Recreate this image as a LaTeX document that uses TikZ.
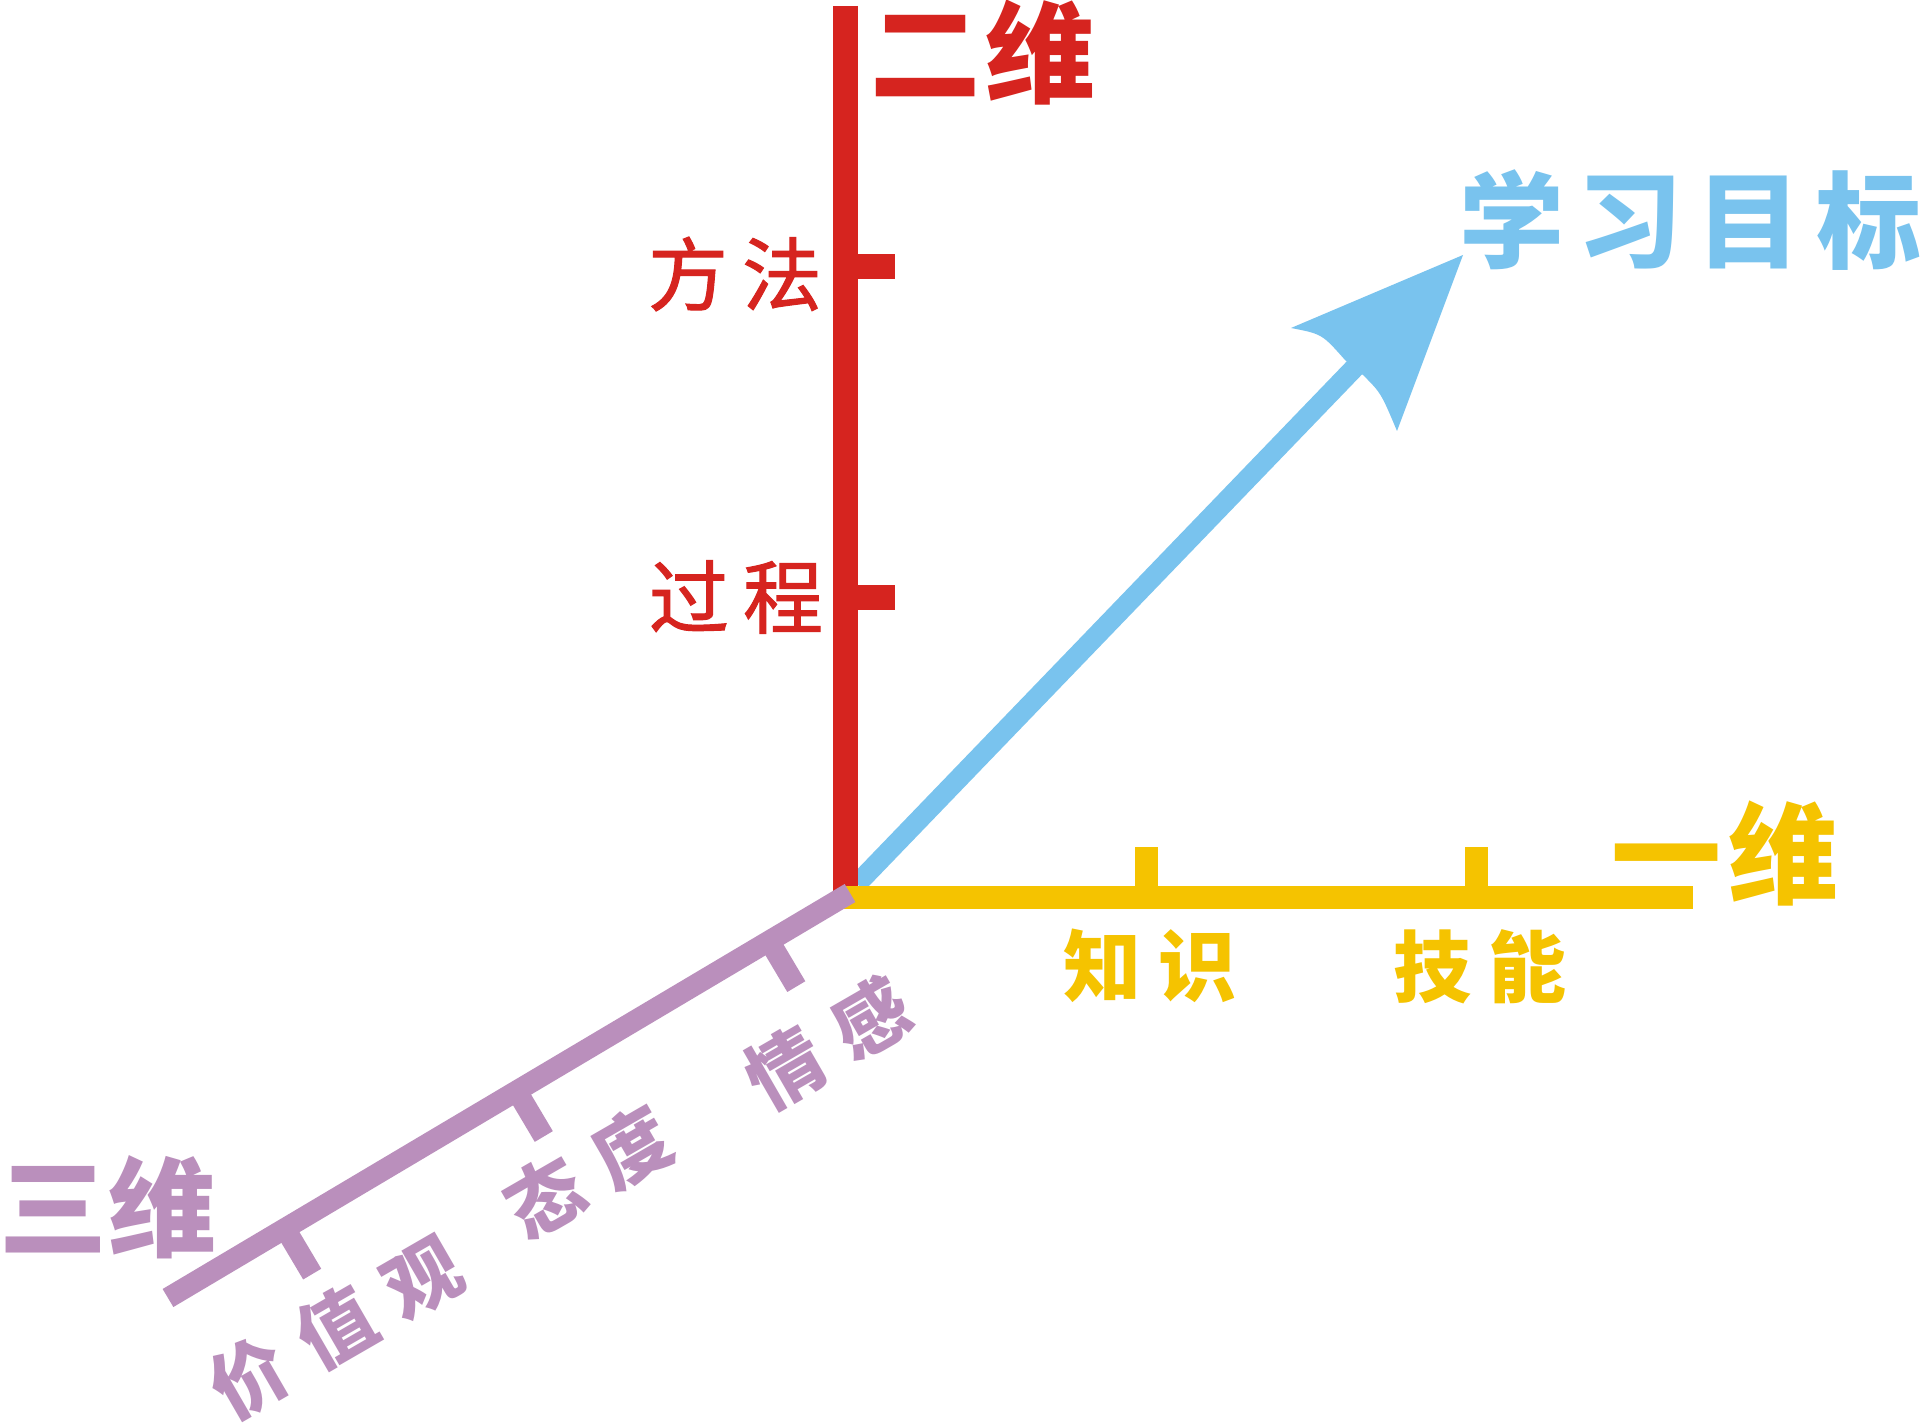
\documentclass[tikz,border=0pt]{standalone}
\usepackage{fontspec}
\newfontfamily\cjk{Noto Sans CJK SC}
\newfontfamily\cjkm[FakeBold=1.3]{Noto Sans CJK SC}
\definecolor{cred}{HTML}{D6241F}
\definecolor{cblue}{HTML}{79C3EE}
\definecolor{cyellow}{HTML}{F5C300}
\definecolor{cpurple}{HTML}{BA8FBC}
\tikzset{
  redax/.style={draw=cred, line width=12.5pt},
  yelax/.style={draw=cyellow, line width=11.5pt},
  purax/.style={draw=cpurple, line width=10.5pt},
  blueax/.style={draw=cblue, line width=10pt},
  lbl/.style={inner sep=0pt, outer sep=0pt, anchor=center},
  head/.style={lbl, font=\cjk\bfseries\fontsize{55pt}{60pt}\selectfont},
  small/.style={lbl, font=\cjkm\fontsize{40pt}{44pt}\selectfont},
  smallb/.style={lbl, font=\cjk\bfseries\fontsize{39pt}{44pt}\selectfont},
  purlbl/.style={lbl, text=cpurple, rotate=30, font=\cjk\bfseries\fontsize{38pt}{42pt}\selectfont},
}
\begin{document}
\begin{tikzpicture}[x=0.5pt,y=-0.5pt]
\fill[white] (0,0) rectangle (1920,1427);
\useasboundingbox (0,0) rectangle (1920,1427);
% coordinates
\coordinate (O) at (850,893);
\coordinate (rtop) at (845,6);
\coordinate (rbot) at (845,895);
\coordinate (rt1a) at (845,267); \coordinate (rt1b) at (895,267);
\coordinate (rt2a) at (845,597); \coordinate (rt2b) at (895,597);
\coordinate (ystart) at (844,897.5);
\coordinate (yend) at (1693,897.5);
\coordinate (yt1a) at (1146,897.5); \coordinate (yt1b) at (1146,847);
\coordinate (yt2a) at (1476,897.5); \coordinate (yt2b) at (1476,847);
\coordinate (pend) at (168,1298);
\coordinate (pt1a) at (769.2,941); \coordinate (pt1b) at (796.3,986.6);
\coordinate (pt2a) at (516.7,1090.9); \coordinate (pt2b) at (543.8,1136.5);
\coordinate (pt3a) at (285.1,1228.5); \coordinate (pt3b) at (312.2,1274.1);
\coordinate (bstart) at (857,884);
\coordinate (bend) at (1362,360);
\coordinate (T) at (1463,255);
\coordinate (L) at (1291,328);
\coordinate (N1) at (1345,360);
\coordinate (N2) at (1363,375);
\coordinate (R) at (1397,431);
% blue arrow
\draw[blueax] (bstart) -- (bend);
\fill[cblue] (T) -- (L) .. controls (1322,334) .. (N1) -- (N2) .. controls (1381,393) .. (R) -- cycle;
% red axis
\draw[redax] (rtop) -- (rbot);
\draw[redax] (rt1a) -- (rt1b);
\draw[redax] (rt2a) -- (rt2b);
% yellow axis
\draw[yelax] (ystart) -- (yend);
\draw[yelax] (yt1a) -- (yt1b);
\draw[yelax] (yt2a) -- (yt2b);
% purple axis
\draw[purax] (O) -- (pend);
\draw[purax] (pt1a) -- (pt1b);
\draw[purax] (pt2a) -- (pt2b);
\draw[purax] (pt3a) -- (pt3b);
% labels
\node[head, text=cred] (erwei) at (983,52) {二\kern2.5pt 维};
\node[small, text=cred] (fangfa) at (735,274) {方\kern7pt 法};
\node[small, text=cred] (guocheng) at (736,597) {过\kern7pt 程};
\node[head, text=cblue, font=\cjk\bfseries\fontsize{52.5pt}{58pt}\selectfont] (mubiao) at (1690,220) {学\kern7pt 习\kern7pt 目\kern7pt 标};
\node[head, text=cyellow] (yiwei) at (1725,853) {一\kern4pt 维};
\node[smallb, text=cyellow] (zhishi) at (1150,966) {知\kern9pt 识};
\node[smallb, text=cyellow] (jineng) at (1480,967) {技\kern9pt 能};
\node[head, text=cpurple, font=\cjk\bfseries\fontsize{54pt}{58pt}\selectfont] (sanwei) at (108,1207) {三\kern1pt 维};
\node[purlbl] (jiazhi) at (336,1328) {价\kern12pt 值\kern12pt 观};
\node[purlbl] (taidu) at (588,1172) {态\kern12pt 度};
\node[purlbl] (qinggan) at (828,1043) {情\kern12pt 感};
\end{tikzpicture}
\end{document}
